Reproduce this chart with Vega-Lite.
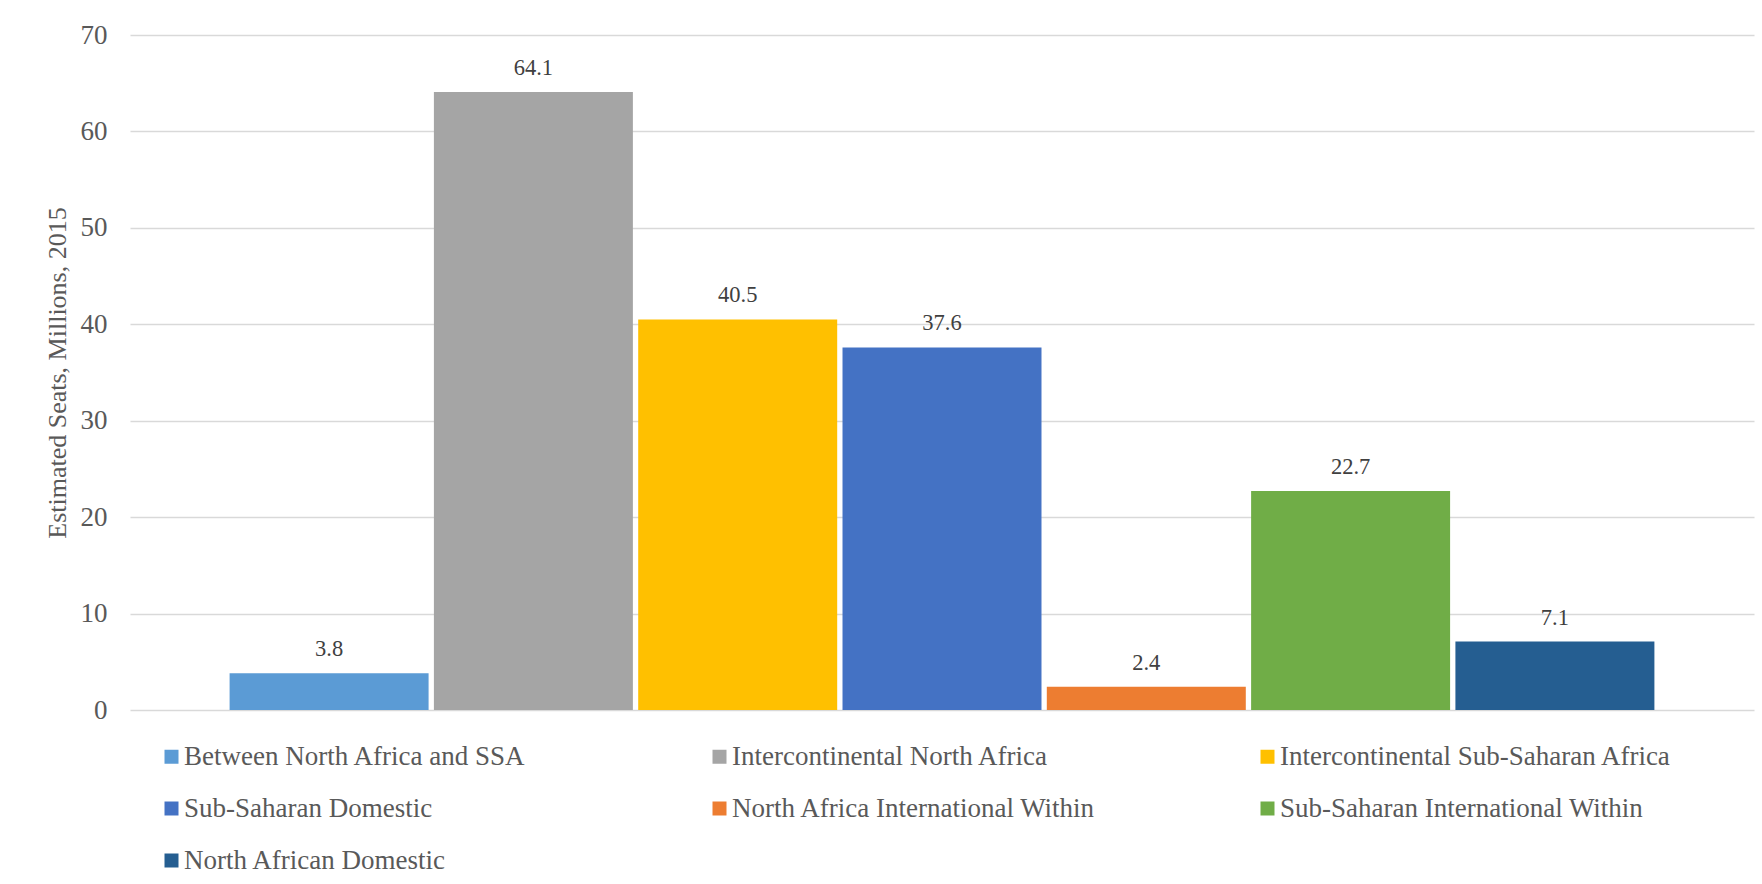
{
  "$schema": "https://vega.github.io/schema/vega-lite/v6.json",
  "width": 1624,
  "height": 675,
  "autosize": {"type": "none"},
  "padding": {"left": 130, "top": 35, "right": 8, "bottom": 174},
  "background": "#ffffff",
  "config": {
    "font": "Liberation Serif",
    "view": {"stroke": null}
  },
  "data": {
    "values": [
      {"series": "Between North Africa and SSA", "seats": 3.8},
      {"series": "Intercontinental North Africa", "seats": 64.1},
      {"series": "Intercontinental Sub-Saharan Africa", "seats": 40.5},
      {"series": "Sub-Saharan Domestic", "seats": 37.6},
      {"series": "North Africa International Within", "seats": 2.4},
      {"series": "Sub-Saharan International Within", "seats": 22.7},
      {"series": "North African Domestic", "seats": 7.1}
    ]
  },
  "encoding": {
    "x": {
      "field": "series",
      "type": "nominal",
      "sort": null,
      "scale": {"paddingInner": 0.026, "paddingOuter": 0.4875},
      "axis": null
    },
    "y": {
      "field": "seats",
      "type": "quantitative",
      "scale": {"domain": [0, 70], "nice": false},
      "axis": {
        "title": "Estimated Seats, Millions, 2015",
        "titleFont": "Liberation Serif",
        "titleFontSize": 26,
        "titleFontWeight": "normal",
        "titleColor": "#595959",
        "titlePadding": 10,
        "values": [0, 10, 20, 30, 40, 50, 60, 70],
        "labelFont": "Liberation Serif",
        "labelFontSize": 27,
        "labelColor": "#595959",
        "labelPadding": 23,
        "domain": false,
        "ticks": false,
        "grid": true,
        "gridColor": "#d9d9d9",
        "gridWidth": 1.5
      }
    }
  },
  "layer": [
    {
      "mark": {"type": "bar"},
      "encoding": {
        "color": {
          "field": "series",
          "type": "nominal",
          "sort": null,
          "scale": {
            "domain": [
              "Between North Africa and SSA",
              "Intercontinental North Africa",
              "Intercontinental Sub-Saharan Africa",
              "Sub-Saharan Domestic",
              "North Africa International Within",
              "Sub-Saharan International Within",
              "North African Domestic"
            ],
            "range": ["#5b9bd5", "#a5a5a5", "#ffc000", "#4472c4", "#ed7d31", "#70ad47", "#255e91"]
          },
          "legend": {
            "title": null,
            "orient": "none",
            "legendX": 28,
            "legendY": 708,
            "direction": "horizontal",
            "columns": 3,
            "gridAlign": "all",
            "columnPadding": 130,
            "rowPadding": 24,
            "symbolType": "square",
            "symbolSize": 196,
            "symbolStrokeWidth": 0,
            "labelFont": "Liberation Serif",
            "labelFontSize": 27,
            "labelColor": "#595959",
            "labelOffset": -1,
            "labelLimit": 600
          }
        }
      }
    },
    {
      "mark": {
        "type": "text",
        "baseline": "alphabetic",
        "align": "center",
        "dy": -17,
        "font": "Liberation Serif",
        "fontSize": 22.5,
        "color": "#404040"
      },
      "encoding": {
        "text": {"field": "seats", "type": "quantitative", "format": ".1f"}
      }
    }
  ]
}
